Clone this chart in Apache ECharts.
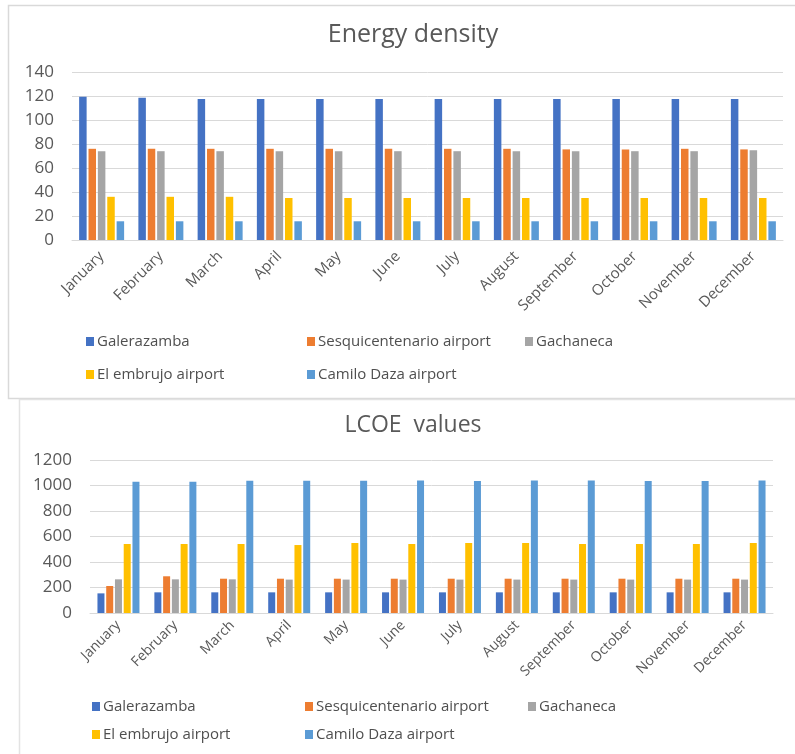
<!DOCTYPE html>
<html>
<head>
<meta charset="utf-8">
<script src="https://cdn.jsdelivr.net/npm/echarts@6/dist/echarts.min.js"></script>
<style>
  html, body { margin: 0; padding: 0; background: #ffffff; }
  #chart { width: 795px; height: 754px; }
</style>
</head>
<body>
<div id="chart"></div>
<script>
// Months shared by both panels
const months = ['January', 'February', 'March', 'April', 'May', 'June',
  'July', 'August', 'September', 'October', 'November', 'December'];

const siteNames = ['Galerazamba', 'Sesquicentenario airport', 'Gachaneca',
  'El embrujo airport', 'Camilo Daza airport'];
const siteColors = ['#4472C4', '#ED7D31', '#A5A5A5', '#FFC000', '#5B9BD5'];

// Energy density per site and month
const densityGalerazamba = [119.4, 118.6, 117.6, 117.6, 117.6, 117.6, 117.6, 117.6, 117.6, 117.6, 117.6, 117.6];
const densitySesquicentenario = [76, 76, 76, 76, 76, 76, 76, 76, 75.5, 75.5, 76, 75.5];
const densityGachaneca = [74, 74, 74, 74, 74, 74, 74, 74, 74, 74, 74, 74.8];
const densityEmbrujo = [36, 36, 36, 35, 35, 35, 35, 35, 35, 35, 35, 35];
const densityCamiloDaza = [15.6, 15.6, 15.6, 15.6, 15.6, 15.6, 15.6, 15.6, 15.6, 15.6, 15.6, 15.6];

// LCOE values per site and month
const lcoeGalerazamba = [154, 162, 162, 162, 162, 162, 162, 162, 162, 162, 162, 162];
const lcoeSesquicentenario = [212, 288, 269, 269, 269, 269, 269, 269, 269, 269, 269, 269];
const lcoeGachaneca = [264, 264, 264, 262, 262, 262, 262, 262, 262, 262, 262, 262];
const lcoeEmbrujo = [541, 541, 541, 533, 549, 541, 549, 549, 541, 541, 541, 549];
const lcoeCamiloDaza = [1030, 1030, 1038, 1038, 1038, 1040, 1035, 1040, 1040, 1035, 1035, 1040];

// Axis tick settings
const densityAxis = { min: 0, max: 140, interval: 20 };
const lcoeAxis = { min: 0, max: 1200, interval: 200 };

const densitySeries = [densityGalerazamba, densitySesquicentenario, densityGachaneca, densityEmbrujo, densityCamiloDaza];
const lcoeSeries = [lcoeGalerazamba, lcoeSesquicentenario, lcoeGachaneca, lcoeEmbrujo, lcoeCamiloDaza];

const textColor = '#595959';
const gridColor = '#d9d9d9';
const font = 'Open Sans';

function bars(values, idx, axisIdx, width) {
  return {
    name: siteNames[idx],
    type: 'bar',
    xAxisIndex: axisIdx,
    yAxisIndex: axisIdx,
    data: values,
    barWidth: width,
    barGap: '25%',
    itemStyle: { color: siteColors[idx] },
    emphasis: { disabled: true }
  };
}

function catAxis(gridIndex, size, margin) {
  return {
    type: 'category',
    gridIndex: gridIndex,
    data: months,
    axisLine: { lineStyle: { color: gridColor } },
    axisTick: { show: false },
    axisLabel: { rotate: 45, interval: 0, color: textColor, fontFamily: font, fontSize: size, margin: margin }
  };
}

function valAxis(gridIndex, scale) {
  return {
    type: 'value',
    gridIndex: gridIndex,
    min: scale.min, max: scale.max, interval: scale.interval,
    axisLine: { show: false },
    axisTick: { show: false },
    splitLine: { lineStyle: { color: gridColor, width: 1 } },
    axisLabel: {
      color: textColor, fontFamily: font, fontSize: 17, margin: 18,
      formatter: function (v) { return String(v); }
    }
  };
}

// One legend block per entry so each sits at its own spot
const legendSlots = [
  [[86, 343], [307, 343], [525, 343], [86, 376], [307, 376]],
  [[92, 708], [305, 708], [528, 708], [92, 736], [305, 736]]
];
const legends = [];
legendSlots.forEach(function (slots) {
  slots.forEach(function (p, i) {
    legends.push({
      data: [siteNames[i]],
      left: p[0], top: p[1] - 9,
      padding: 0,
      icon: 'rect', itemWidth: 8, itemHeight: 9, itemGap: 3,
      textStyle: { color: '#4f4f4f', fontFamily: font, fontSize: 15, padding: [0, 0, 0, -2] }
    });
  });
});

const chart = echarts.init(document.getElementById('chart'), null, { renderer: 'canvas' });
chart.setOption({
  backgroundColor: '#ffffff',
  animation: false,
  graphic: [
    { type: 'rect', shape: { x: 8.5, y: 5.5, width: 820, height: 393 }, style: { fill: 'none', stroke: '#d9d9d9', lineWidth: 1.5 }, z: -1 },
    { type: 'rect', shape: { x: 19.5, y: 399.5, width: 820, height: 400 }, style: { fill: 'none', stroke: '#e3e3e3', lineWidth: 1.5 }, z: -1 }
  ],
  title: [
    { text: 'Energy density', left: 408, top: 17, textAlign: 'center',
      textStyle: { color: textColor, fontFamily: font, fontSize: 25, fontWeight: 'normal' } },
    { text: 'LCOE  values', left: 408, top: 409, textAlign: 'center',
      textStyle: { color: textColor, fontFamily: font, fontSize: 23, fontWeight: 'normal' } }
  ],
  legend: legends,
  grid: [
    { left: 72, right: 12, top: 72, height: 168 },
    { left: 90, right: 22, top: 460, height: 153 }
  ],
  xAxis: [catAxis(0, 15, 14), catAxis(1, 14, 10)],
  yAxis: [valAxis(0, densityAxis), valAxis(1, lcoeAxis)],
  series: densitySeries.map(function (v, i) { return bars(v, i, 0, 7.5); })
    .concat(lcoeSeries.map(function (v, i) { return bars(v, i, 1, 7); }))
});
</script>
</body>
</html>
